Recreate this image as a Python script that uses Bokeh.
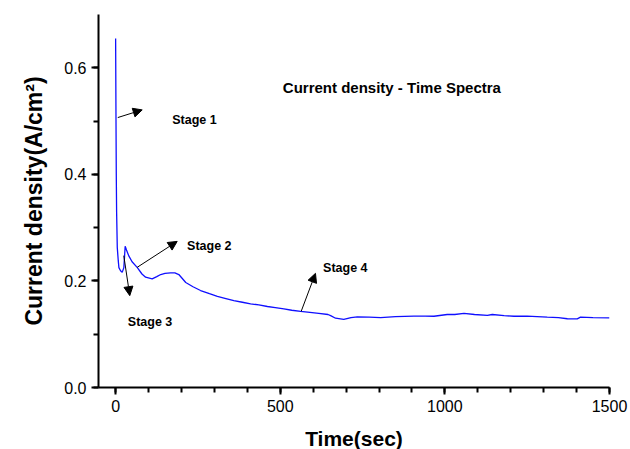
from bokeh.plotting import figure
from bokeh.models import Range1d, SingleIntervalTicker, Arrow, NormalHead, Label, NumeralTickFormatter
from bokeh.embed import file_html
from bokeh.resources import INLINE

# Current density - time data
time_s = [0, 1, 2, 3, 5, 8, 10, 15, 20, 25, 29, 33, 40, 50, 66, 80, 91, 111, 125, 137, 150, 167, 180, 192, 213,
          235, 258, 285, 309, 335, 359, 385, 410, 435, 461, 485, 511, 535, 562, 590, 617, 645, 653, 668, 693, 715,
          734, 770, 805, 850, 906, 940, 967, 1007, 1030, 1058, 1090, 1129, 1144, 1180, 1210, 1250, 1280, 1311,
          1345, 1372, 1402, 1412, 1450, 1500]
current = [0.655, 0.52, 0.40, 0.33, 0.263, 0.238, 0.225, 0.219, 0.216, 0.225, 0.265, 0.258, 0.247, 0.236, 0.225,
           0.213, 0.207, 0.204, 0.208, 0.212, 0.214, 0.215, 0.215, 0.212, 0.197,
           0.189, 0.182, 0.176, 0.171, 0.167, 0.163, 0.160, 0.157, 0.155, 0.152, 0.150, 0.1475, 0.145, 0.143, 0.141,
           0.139, 0.137, 0.135, 0.130, 0.128, 0.131,
           0.1325, 0.132, 0.131, 0.133, 0.134, 0.134, 0.1337, 0.137, 0.137, 0.139, 0.137, 0.1355, 0.137, 0.135,
           0.1337, 0.134, 0.133, 0.132, 0.131, 0.129, 0.1287, 0.132, 0.131, 0.1305]

x_major_interval, x_minor_count = 500, 5
y_major_interval, y_minor_count = 0.2, 2
x_start, x_end = -52, 1500
y_start, y_end = 0.0, 0.7

# annotations
stage_labels = ["Stage 1", "Stage 2", "Stage 3", "Stage 4"]
label_x = [172, 217, 37, 630]
label_y = [0.5017, 0.2648, 0.1237, 0.224]
arrow_x0 = [6.6, 65.5, 24.8, 563.6]
arrow_y0 = [0.5066, 0.2255, 0.2474, 0.143]
arrow_x1 = [80.7, 187, 43, 607]
arrow_y1 = [0.521, 0.2742, 0.1724, 0.2142]
title_text = "Current density - Time Spectra"
title_x, title_y = 839, 0.5623

p = figure(frame_width=511, frame_height=373, output_backend="svg", toolbar_location=None,
           x_range=Range1d(x_start, x_end), y_range=Range1d(y_start, y_end),
           min_border_left=98, min_border_right=21, min_border_top=14, min_border_bottom=62)
p.outline_line_color = None
p.xgrid.visible = False
p.ygrid.visible = False
p.background_fill_color = "white"
p.border_fill_color = "white"

p.line(time_s, current, line_color="#0f0fff", line_width=1.3)

p.xaxis[0].ticker = SingleIntervalTicker(interval=x_major_interval, num_minor_ticks=x_minor_count)
p.yaxis[0].ticker = SingleIntervalTicker(interval=y_major_interval, num_minor_ticks=y_minor_count)

for ax in [p.xaxis[0], p.yaxis[0]]:
    ax.axis_line_width = 2
    ax.axis_line_color = "black"
    ax.major_tick_line_width = 2
    ax.major_tick_out = 7
    ax.major_tick_in = 0
    ax.minor_tick_line_width = 2
    ax.minor_tick_line_color = "black"
    ax.minor_tick_out = 5
    ax.major_label_text_font = "Liberation Sans"
    ax.major_label_text_font_size = "16px"
    ax.major_label_text_color = "black"
    ax.axis_label_text_font = "Liberation Sans"
    ax.axis_label_text_font_style = "bold"
    ax.axis_label_text_color = "black"

p.yaxis[0].formatter = NumeralTickFormatter(format="0.0")
p.xaxis[0].axis_label = "Time(sec)"
p.xaxis[0].axis_label_text_font_size = "21px"
p.xaxis[0].axis_label_standoff = 12
p.yaxis[0].axis_label = "Current density(A/cm\u00b2)"
p.yaxis[0].axis_label_text_font_size = "23px"
p.yaxis[0].axis_label_standoff = 14

for lx, ly, txt in zip(label_x, label_y, stage_labels):
    p.add_layout(Label(x=lx, y=ly, text=txt, text_font="Liberation Sans", text_font_style="bold",
                       text_font_size="12.5px", text_baseline="alphabetic", text_align="left",
                       text_color="black"))

p.add_layout(Label(x=title_x, y=title_y, text=title_text, text_font="Liberation Sans", text_font_style="bold",
                   text_font_size="15px", text_baseline="middle", text_align="center", text_color="black"))

for x0, y0, x1, y1 in zip(arrow_x0, arrow_y0, arrow_x1, arrow_y1):
    p.add_layout(Arrow(x_start=x0, y_start=y0, x_end=x1, y_end=y1, line_width=1, line_color="black",
                       end=NormalHead(size=9, fill_color="black", line_color="black", line_width=1)))

open("out.html", "w").write(file_html(p, INLINE))
